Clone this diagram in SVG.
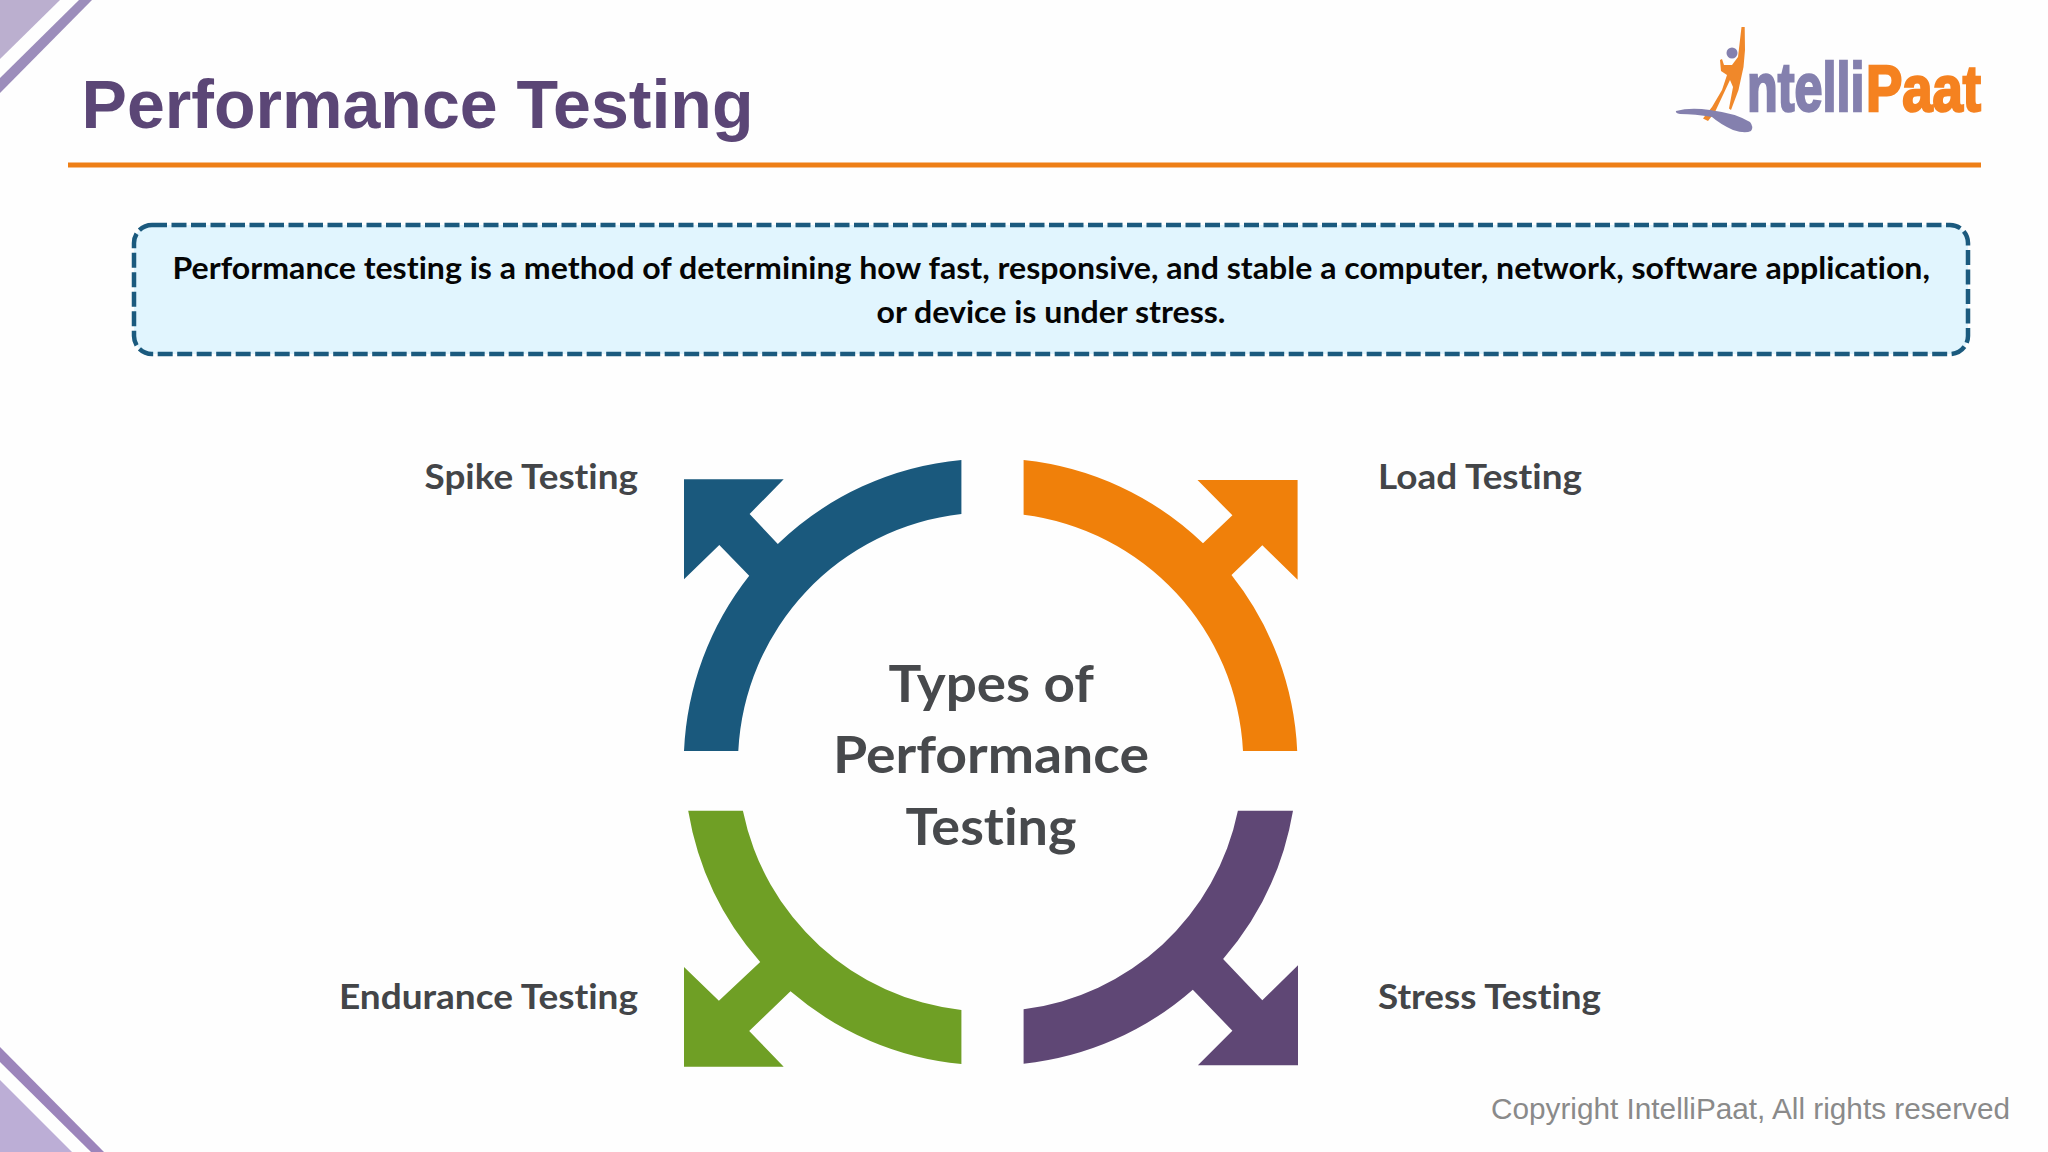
<svg xmlns="http://www.w3.org/2000/svg" width="2048" height="1152" viewBox="0 0 2048 1152">
<style>
.lab,.ctr,.desc{font-family:"Lato","Open Sans",sans-serif;font-weight:700;font-variant-ligatures:none}
.lab{fill:#434548;font-size:35px}
.ctr{fill:#47494c;font-size:52px}
.desc{fill:#050505;font-size:31px}
.logo{font-family:"Liberation Sans",Arial,sans-serif;font-weight:700;stroke-width:2.500}
</style>
<rect width="2048" height="1152" fill="#fefefe"/>
<g id="decor">
<polygon points="0,0 60,0 0,59" fill="#bbafcf"/>
<polygon points="79,0 92,0 0,93 0,78" fill="#9c8dbb"/>
<polygon points="0,1047 104,1152 91,1152 0,1062" fill="#9c85bb"/>
<polygon points="0,1080 72,1152 0,1152" fill="#bcaed6"/>
</g>
<g id="header">
<text x="81.500" y="128" font-family="'Liberation Sans',Arial,sans-serif" font-weight="700" font-size="68" fill="#5b4676" textLength="672" lengthAdjust="spacingAndGlyphs">Performance Testing</text>
<rect x="68" y="162.500" width="1913" height="5" fill="#ee7f16"/>
</g>
<g id="logo">
<path d="M1741.500,27 L1744.700,27 L1745,50 L1743.500,67 L1738.500,90 L1731,110 L1729,108.500 L1733,87 L1730,80 L1715,112 L1708,121 L1703,118.500 L1712,107 L1722,90 L1727,75 L1721,71 L1720,60 L1722,59 L1724,65 L1732,65 L1738,57 Z" fill="#f0882a"/>
<circle cx="1732" cy="53" r="5.500" fill="#8480ae"/>
<path d="M1676,111 Q1690,107 1710,110 Q1735,113 1750,122 Q1754,127 1751,131 Q1745,134 1733,130 Q1720,124 1712,117 Q1695,114 1680,114 Q1675,113 1676,111 Z" fill="#8480ae"/>
<text class="logo" transform="translate(1747,110.500) scale(0.74,1)" font-size="68" fill="#8480ae" stroke="#8480ae">ntelli</text>
<text class="logo" transform="translate(1866,110.500) scale(0.85,1)" font-size="64" fill="#f58220" stroke="#f58220">Paat</text>
</g>
<g id="description">
<rect x="134" y="225" width="1834" height="129" rx="18" ry="18" fill="#e1f5fe" stroke="#1b5a7e" stroke-width="4.500" stroke-dasharray="15 4.500"/>
<text class="desc" x="172.500" y="279" textLength="1757.500" lengthAdjust="spacingAndGlyphs">Performance testing is a method of determining how fast, responsive, and stable a computer, network, software application,</text>
<text class="desc" x="876.500" y="323" textLength="349" lengthAdjust="spacingAndGlyphs">or device is under stress.</text>
</g>
<g id="connectors">
<path id="arrow-spike" fill="#1a597d" d="M684,751 A305,305 0 0 1 749.200,575.700 L719.300,545 L684,579.300 L684,479.300 L783.700,479.300 L749.600,514 L777.800,544 A305,305 0 0 1 961.400,460 L961.400,514 A251,251 0 0 0 738.300,751 Z"/>
<path id="arrow-load" fill="#f0800a" d="M1023.600,460 A305,305 0 0 1 1203,543.300 L1232.400,515.300 L1197.500,480 L1297.600,480 L1297.600,579.700 L1262.300,545.300 L1231.500,575 A305,305 0 0 1 1297.200,751 L1243,751 A251,251 0 0 0 1023.600,514.700 Z"/>
<path id="arrow-endurance" fill="#6f9f25" d="M688.200,810.700 A305,305 0 0 0 760.200,962 L718.900,1000.700 L684,967 L684,1066.700 L783.700,1066.700 L749.200,1031 L790.500,991.300 A305,305 0 0 0 961.400,1064 L961.400,1010 A251,251 0 0 1 742.900,810.700 Z"/>
<path id="arrow-stress" fill="#5f4775" d="M1293,810.700 A305,305 0 0 1 1223.100,959 L1262.300,1000.300 L1298,965.300 L1298,1065.300 L1197.900,1065.300 L1232.400,1030.700 L1192.800,989.700 A305,305 0 0 1 1023.600,1063.700 L1023.600,1009.300 A251,251 0 0 0 1237.900,810.700 Z"/>
</g>
<g id="center">
<text class="ctr" x="888.500" y="702" textLength="205.500" lengthAdjust="spacingAndGlyphs">Types of</text>
<text class="ctr" x="833" y="773" textLength="316" lengthAdjust="spacingAndGlyphs">Performance</text>
<text class="ctr" x="905.500" y="845" textLength="171" lengthAdjust="spacingAndGlyphs">Testing</text>
</g>
<g id="node-spike"><text class="lab" x="424.500" y="489" textLength="213.500" lengthAdjust="spacingAndGlyphs">Spike Testing</text></g>
<g id="node-load"><text class="lab" x="1378" y="489" textLength="204" lengthAdjust="spacingAndGlyphs">Load Testing</text></g>
<g id="node-endurance"><text class="lab" x="339" y="1009" textLength="299" lengthAdjust="spacingAndGlyphs">Endurance Testing</text></g>
<g id="node-stress"><text class="lab" x="1378" y="1009" textLength="223" lengthAdjust="spacingAndGlyphs">Stress Testing</text></g>
<g id="footer"><text x="1491" y="1119" font-family="'Liberation Sans',Arial,sans-serif" font-size="30" fill="#8a8a8a" textLength="519" lengthAdjust="spacingAndGlyphs">Copyright IntelliPaat, All rights reserved</text></g>
</svg>
